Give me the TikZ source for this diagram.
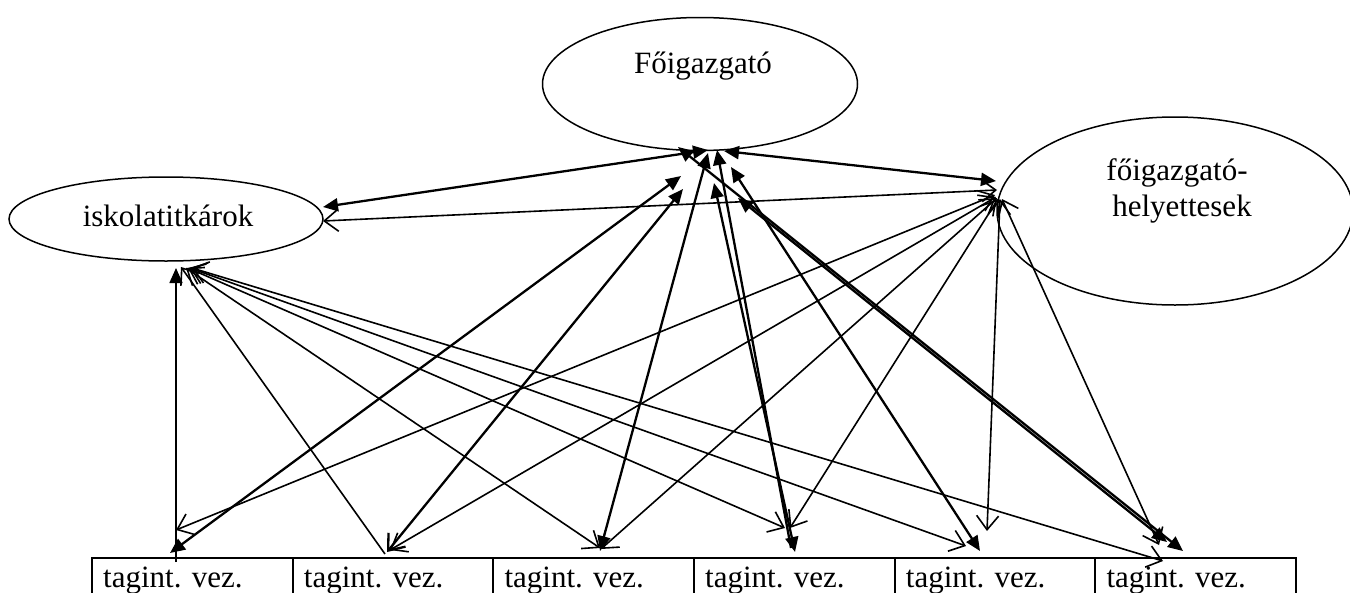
\documentclass[tikz,border=0pt]{standalone}
\usepackage{fontspec}
\setmainfont{Liberation Serif}
\usetikzlibrary{shapes.geometric,arrows.meta}
\begin{document}
\begin{tikzpicture}[x=1pt,y=-1pt,
  ell/.style={draw, ellipse, line width=1.5pt, inner sep=0pt, outer sep=0pt},
  cellbox/.style={draw, rectangle, line width=1.7pt, inner sep=0pt, outer sep=0pt,
                  minimum width=200.7pt, minimum height=60pt, anchor=north west},
  lbl/.style={font=\fontsize{31}{37}\selectfont, inner sep=0pt},
  celltext/.style={lbl, anchor=base west},
  fline/.style={line width=2.3pt},
  pline/.style={line width=1.6pt},
  fh/.tip={Triangle[length=15pt,width=13pt]},
  oh/.tip={Straight Barb[length=14pt,width=22pt]},
]
\useasboundingbox (0,0) rectangle (1350,592);
\clip (0,0) rectangle (1350,592);

% ---- ellipses and their captions
\node[ell, minimum width=315pt, minimum height=133pt] (F) at (700,84) {};
\node[ell, minimum width=356pt, minimum height=188pt] (H) at (1175,211) {};
\node[ell, minimum width=314pt, minimum height=84pt]  (I) at (166,219) {};
\node[lbl, anchor=base] (Ft)  at (703,73)  {Főigazgató};
\node[lbl, anchor=base] (Ht1) at (1177,180) {főigazgató-};
\node[lbl, anchor=base] (Ht2) at (1182,216) {helyettesek};
\node[lbl, anchor=base] (It)  at (168,226) {iskolatitkárok};

% ---- row of cells
\foreach \i/\x in {1/92, 2/292.7, 3/493.3, 4/694, 5/894.7, 6/1095.3}{
  \node[cellbox] (c\i) at (\x,558) {};
  \node[celltext] (t\i) at (\x+11,587) {tagint. vez.};
}

% ---- connector ports
% Főigazgató
\coordinate (F-i) at (708,150);
\coordinate (F-h) at (724,151);
\coordinate (F-1) at (681,176);
\coordinate (F-2) at (683,189);
\coordinate (F-3) at (708,153);
\coordinate (F-4) at (714,183);
\coordinate (F-4b) at (717,150);
\coordinate (F-5) at (731,167);
\coordinate (F-6) at (678,147);
\coordinate (F-6b) at (738,198);
% helyettesek
\coordinate (H-f) at (996,181);
\coordinate (H-i) at (997,190);
\coordinate (H-1) at (995,195);
\coordinate (H-2) at (996,197);
\coordinate (H-3) at (997,198);
\coordinate (H-4) at (998,199);
\coordinate (H-5) at (1000,199);
\coordinate (H-6) at (1002,199);
% iskolatitkárok
\coordinate (I-f) at (323,207);
\coordinate (I-h) at (323,221);
\coordinate (I-1) at (176,268);
\coordinate (I-2) at (181,267);
\coordinate (I-3) at (186,268);
\coordinate (I-4) at (188,268);
\coordinate (I-5) at (190,268);
\coordinate (I-6) at (192,268);
% cells
\coordinate (c1-i) at (176,562);
\coordinate (c1-h) at (176,530);
\coordinate (c1-f) at (170,553);
\coordinate (c2-i) at (385,554);
\coordinate (c2-h) at (390,550);
\coordinate (c2-f) at (387,552);
\coordinate (c3-i) at (600,548);
\coordinate (c3-h) at (601,549);
\coordinate (c3-f) at (600,551);
\coordinate (c4-i) at (785,528);
\coordinate (c4-h) at (790,528);
\coordinate (c4-f) at (795,552);
\coordinate (c4-g) at (791,548);
\coordinate (c5-i) at (966,546);
\coordinate (c5-h) at (987,531);
\coordinate (c5-f) at (980,551);
\coordinate (c6-i) at (1163,561);
\coordinate (c6-h) at (1159,545);
\coordinate (c6-f) at (1183,551);
\coordinate (c6-g) at (1167,542);

% ---- links among the ellipses
\draw[fline, fh-fh] (F-i) -- (I-f);
\draw[fline, fh-fh] (F-h) -- (H-f);
\draw[pline, oh-oh] (H-i) -- (I-h);

% ---- iskolatitkárok to the cells
\draw[pline, -fh] (c1-i) -- (I-1);
\draw[pline, -oh] (c2-i) -- (I-2);
\draw[pline, oh-oh] (I-3) -- (c3-i);
\draw[pline, oh-oh] (I-4) -- (c4-i);
\draw[pline, oh-oh] (I-5) -- (c5-i);
\draw[pline, oh-oh] (I-6) -- (c6-i);

% ---- helyettesek to the cells
\draw[pline, oh-oh] (H-1) -- (c1-h);
\draw[pline, oh-oh] (H-2) -- (c2-h);
\draw[pline, oh-oh] (H-3) -- (c3-h);
\draw[pline, oh-oh] (H-4) -- (c4-h);
\draw[pline, oh-oh] (H-5) -- (c5-h);
\draw[pline, oh-oh] (H-6) -- (c6-h);

% ---- Főigazgató to the cells
\draw[fline, fh-fh] (F-1) -- (c1-f);
\draw[fline, fh-oh] (F-2) -- (c2-f);
\draw[fline, fh-fh] (F-3) -- (c3-f);
\draw[fline, fh-fh] (F-4) -- (c4-f);
\draw[fline, fh-]   (F-4b) -- (c4-g);
\draw[fline, fh-fh] (F-5) -- (c5-f);
\draw[fline, fh-fh] (F-6) -- (c6-f);
\draw[fline, fh-fh] (F-6b) -- (c6-g);
\end{tikzpicture}
\end{document}
